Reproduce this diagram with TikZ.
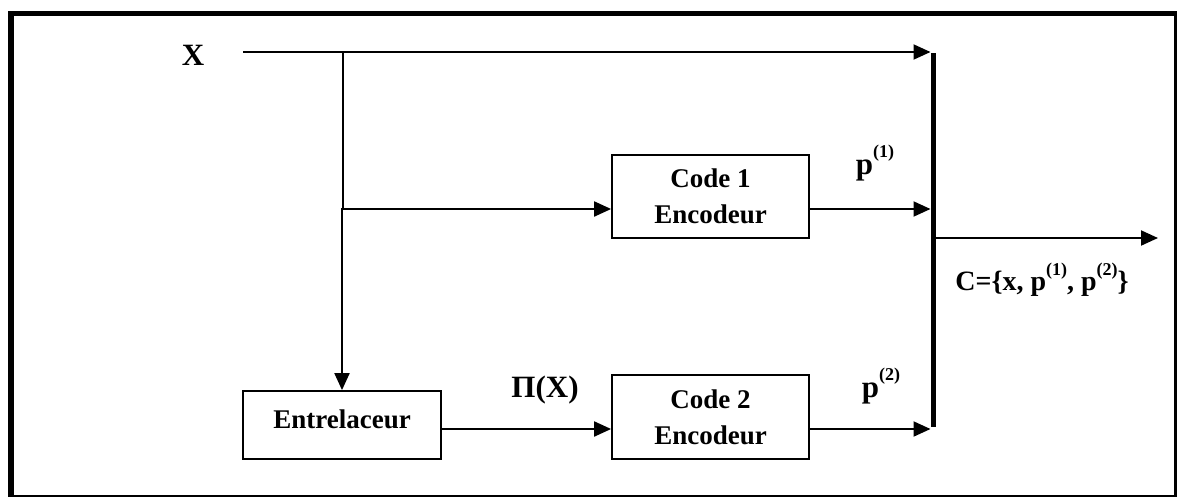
\documentclass[tikz,border=0pt]{standalone}
\usepackage{fontspec}
\setmainfont{Liberation Serif}
\usetikzlibrary{arrows.meta}
\newcommand{\upidx}[1]{\raisebox{0.55em}{\fontsize{18}{20}\selectfont #1}}
\tikzset{
  block/.style={draw, line width=1.8pt, fill=white, align=center, inner sep=0pt,
    font=\fontsize{27}{36}\selectfont\bfseries},
  lab/.style={inner sep=0pt, font=\fontsize{31}{34}\selectfont\bfseries},
  plab/.style={inner sep=0pt, font=\fontsize{31}{34}\selectfont\bfseries},
  flow/.style={line width=2pt, -{Triangle[length=17pt,width=15pt]}},
  wire/.style={line width=2pt},
  bus/.style={line width=5pt},
  frame/.style={fill=black, draw=none}
}
\begin{document}
\begin{tikzpicture}[x=1pt, y=-1pt]
\useasboundingbox (0,0) rectangle (1178,498);
% outer frame: heavy top/left edges, light right/bottom edges
\fill[frame] (8,11) rectangle (1177,16);
\fill[frame] (8,11) rectangle (14,497);
\fill[frame] (1174,11) rectangle (1177,497);
\fill[frame] (8,495) rectangle (1177,497);

% blocks
\node[block, minimum width=197pt, minimum height=83pt] (enc1) at (710.5,196.5) {Code 1\\Encodeur};
\node[block, minimum width=197pt, minimum height=84pt] (enc2) at (710.5,417) {Code 2\\Encodeur};
\node[block, minimum width=198pt, minimum height=68pt, text height=20pt, text depth=14pt] (intl) at (342,425) {Entrelaceur};

% junction points and the output bus
\coordinate (xin) at (243,52);
\coordinate (split) at (343,52);
\coordinate (tap) at (343,209);
\coordinate (bustop) at (933,52);
\coordinate (busbot) at (933,429);
\coordinate (busout) at (933,238);
\coordinate (cout) at (1158,238);

% labels
\node[lab] (xlab) at (193,55) {X};
\node[lab] (pilab) at (545,390) {Π(X)};
\node[plab] (p1lab) at (875,163) {p\upidx{(1)}};
\node[plab] (p2lab) at (881,386) {p\upidx{(2)}};
\node[inner sep=0pt, font=\fontsize{28}{30}\selectfont\bfseries] (clab) at (1042,280)
  {C=\{x, p\upidx{(1)}, p\upidx{(2)}\}};

% signal paths
\draw[flow] (xin) -- ([xshift=-2.5pt]bustop);
\draw[wire] (split) -- (tap);
\draw[flow] (tap) -- (intl.north |- tap) -- (intl.north);
\draw[flow] (tap) -- (tap -| enc1.west);
\draw[flow] (tap -| enc1.east) -- ([xshift=-2.5pt]bustop |- tap);
\draw[flow] (intl.east |- busbot) -- (enc2.west |- busbot);
\draw[flow] (enc2.east |- busbot) -- ([xshift=-2.5pt]busbot);
\draw[bus] ([yshift=-1pt]bustop) -- ([yshift=2pt]busbot);
\draw[flow] ([xshift=2.5pt]busout) -- (cout);
\end{tikzpicture}
\end{document}
